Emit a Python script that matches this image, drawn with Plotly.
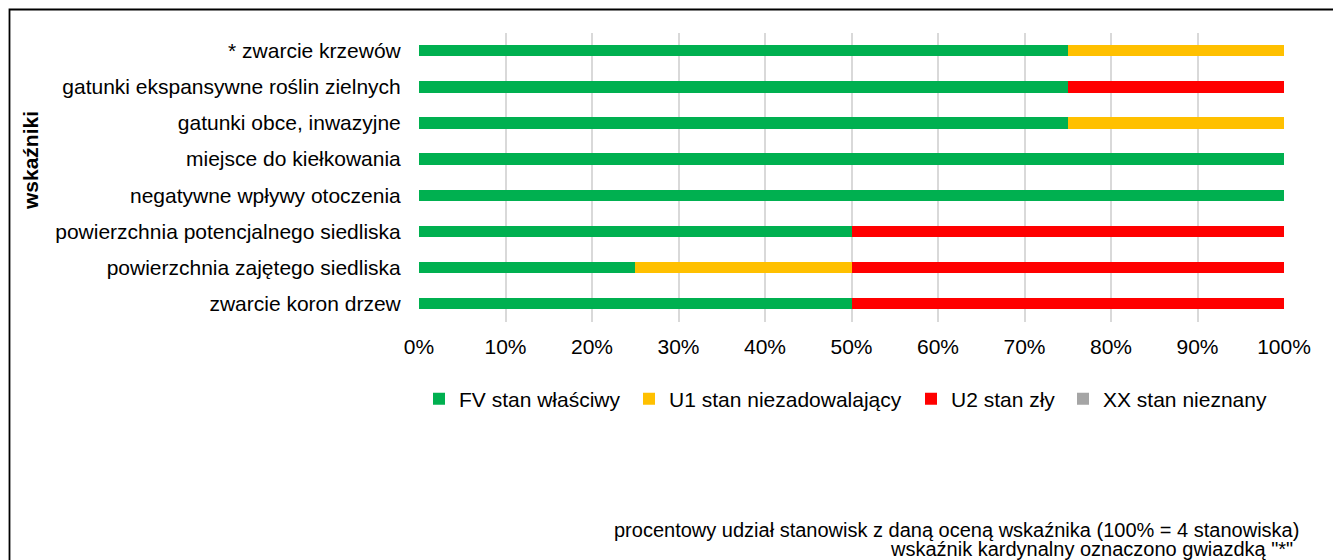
import plotly.graph_objects as go

W, H = 1333, 560

categories = [
    "* zwarcie krzewów",
    "gatunki ekspansywne roślin zielnych",
    "gatunki obce, inwazyjne",
    "miejsce do kiełkowania",
    "negatywne wpływy otoczenia",
    "powierzchnia potencjalnego siedliska",
    "powierzchnia zajętego siedliska",
    "zwarcie koron drzew",
]
fv_values = [75, 75, 75, 100, 100, 50, 25, 50]
u1_values = [25, 0, 25, 0, 0, 0, 25, 0]
u2_values = [0, 25, 0, 0, 0, 50, 50, 50]
xx_values = [0, 0, 0, 0, 0, 0, 0, 0]
series_names = ["FV stan właściwy", "U1 stan niezadowalający", "U2 stan zły", "XX stan nieznany"]
series_colors = ["#00b050", "#ffc000", "#ff0000", "#a5a5a5"]
x_tick_values = [0, 10, 20, 30, 40, 50, 60, 70, 80, 90, 100]
x_tick_labels = ["0%", "10%", "20%", "30%", "40%", "50%", "60%", "70%", "80%", "90%", "100%"]
axis_title = "wskaźniki"
footnote_1 = "procentowy udział stanowisk z daną oceną wskaźnika (100% = 4 stanowiska)"
footnote_2 = "wskaźnik kardynalny oznaczono gwiazdką \"*\""

FONT = "Liberation Sans, Arial, sans-serif"

def px_x(v):
    return v / W

def px_y(v):
    return 1 - v / H

series_values = [fv_values, u1_values, u2_values, xx_values]
legend_ids = ["legend", "legend2", "legend3", "legend4"]
legend_text_x = [458, 668, 950, 1102]

fig = go.Figure()
for name, vals, col, lid in zip(series_names, series_values, series_colors, legend_ids):
    fig.add_trace(go.Bar(
        y=categories, x=vals, name=name, orientation="h",
        marker=dict(color=col, line=dict(width=0)),
        legend=lid, showlegend=True,
    ))

legend_layout = {}
for lid, tx in zip(legend_ids, legend_text_x):
    legend_layout[lid] = dict(
        x=px_x(tx - 39), xanchor="left",
        y=px_y(399), yanchor="middle",
        orientation="h", bgcolor="rgba(0,0,0,0)",
        font=dict(family=FONT, size=21, color="#000000"),
        borderwidth=0, itemclick=False,
    )

fig.update_layout(
    width=W, height=H,
    margin=dict(l=0, r=0, t=0, b=0, pad=0, autoexpand=False),
    paper_bgcolor="white", plot_bgcolor="white",
    barmode="stack", bargap=0.685,
    font=dict(family=FONT, size=21, color="#000000"),
    xaxis=dict(
        domain=[px_x(419), px_x(1284)],
        range=[0, 100], tickmode="array",
        tickvals=x_tick_values, ticktext=x_tick_labels,
        showgrid=True, gridcolor="#d9d9d9", gridwidth=1.5,
        zeroline=False, showline=False, automargin=False,
        ticks="outside", ticklen=6, tickcolor="rgba(0,0,0,0)",
        tickfont=dict(family=FONT, size=21, color="#000000"),
        fixedrange=True,
    ),
    yaxis=dict(
        domain=[px_y(321.7), px_y(32.7)],
        autorange="reversed", type="category",
        showgrid=False, zeroline=False, showline=False, automargin=False,
        ticks="outside", ticklen=13, tickcolor="rgba(0,0,0,0)",
        tickfont=dict(family=FONT, size=21, color="#000000"),
        fixedrange=True,
    ),
    shapes=[dict(
        type="rect", xref="paper", yref="paper",
        x0=px_x(9.5), x1=1.02, y0=-0.02, y1=px_y(9.5),
        line=dict(color="#000000", width=1.8), fillcolor="rgba(0,0,0,0)",
        layer="below",
    )],
    annotations=[
        dict(text=axis_title, textangle=-90, xref="paper", yref="paper",
             x=px_x(30), y=px_y(160), xanchor="center", yanchor="middle",
             showarrow=False, font=dict(family=FONT, size=21, color="#000000", weight="bold")),
        dict(text=footnote_1, xref="paper", yref="paper",
             x=px_x(1301), y=px_y(530), xanchor="right", yanchor="middle",
             showarrow=False, font=dict(family=FONT, size=20, color="#000000")),
        dict(text=footnote_2, xref="paper", yref="paper",
             x=px_x(1295), y=px_y(549), xanchor="right", yanchor="middle",
             showarrow=False, font=dict(family=FONT, size=20, color="#000000")),
    ],
    **legend_layout,
)

fig.write_html(
    "out.html",
    config={"displayModeBar": False},
    post_script="document.body.style.margin='0';document.body.style.overflow='hidden';",
)
